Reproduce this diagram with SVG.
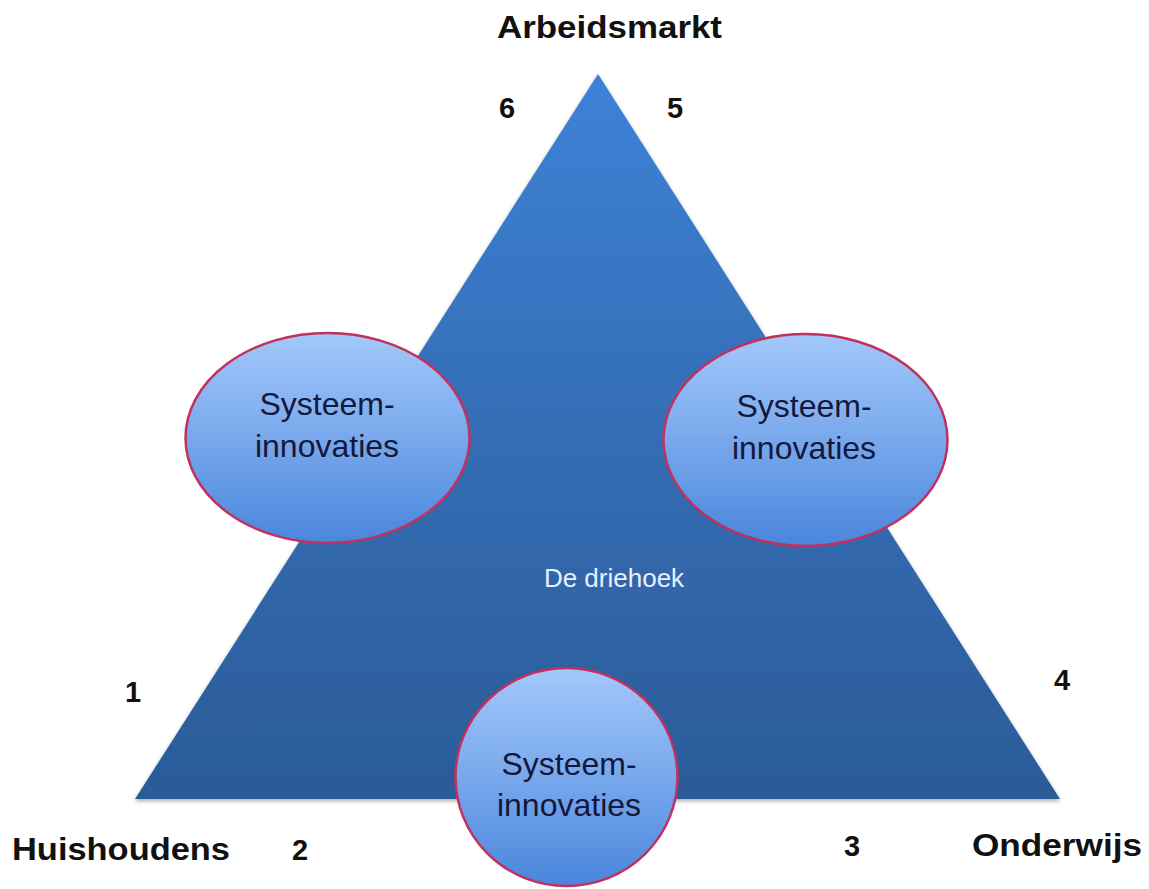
<svg xmlns="http://www.w3.org/2000/svg" width="1149" height="889" viewBox="0 0 1149 889">
<defs>
<linearGradient id="tri" x1="0" y1="0" x2="0" y2="1">
<stop offset="0" stop-color="#3d82d6"/>
<stop offset="0.5" stop-color="#346db5"/>
<stop offset="1" stop-color="#2b5b98"/>
</linearGradient>
<linearGradient id="ell" x1="0" y1="0" x2="0" y2="1">
<stop offset="0" stop-color="#a3c8fa"/>
<stop offset="0.5" stop-color="#78a8ec"/>
<stop offset="1" stop-color="#4a86dc"/>
</linearGradient>
<filter id="sh" x="-10%" y="-10%" width="120%" height="130%">
<feGaussianBlur in="SourceAlpha" stdDeviation="2"/>
<feOffset dy="2"/>
<feComponentTransfer><feFuncA type="linear" slope="0.35"/></feComponentTransfer>
<feMerge><feMergeNode/><feMergeNode in="SourceGraphic"/></feMerge>
</filter>
</defs>
<style>
.lbl{font-family:"Liberation Sans",Arial,sans-serif;font-weight:bold;fill:#111;}
.ell{fill:url(#ell);stroke:#c2305e;stroke-width:2.5;}
.et{font-family:"Liberation Sans",Arial,sans-serif;font-size:32px;fill:#14183a;text-anchor:middle;}
</style>
<rect width="1149" height="889" fill="#ffffff"/>
<g id="triangle">
<polygon points="598,74 1060,799 135,799" fill="url(#tri)" filter="url(#sh)"/>
<text x="614" y="587" font-family="Liberation Sans, Arial, sans-serif" font-size="26" fill="#e8f0ff" text-anchor="middle">De driehoek</text>
</g>
<g id="labels">
<text class="lbl" x="497" y="38" font-size="31" textLength="225" lengthAdjust="spacingAndGlyphs">Arbeidsmarkt</text>
<text class="lbl" x="12" y="860" font-size="31" textLength="218" lengthAdjust="spacingAndGlyphs">Huishoudens</text>
<text class="lbl" x="972" y="856" font-size="31" textLength="170" lengthAdjust="spacingAndGlyphs">Onderwijs</text>
<text class="lbl" x="499" y="118" font-size="29">6</text>
<text class="lbl" x="667" y="118" font-size="29">5</text>
<text class="lbl" x="125" y="702" font-size="29">1</text>
<text class="lbl" x="1054" y="690" font-size="29">4</text>
<text class="lbl" x="292" y="860" font-size="29">2</text>
<text class="lbl" x="844" y="856" font-size="29">3</text>
</g>
<g id="node-left">
<ellipse class="ell" cx="327.5" cy="438" rx="142" ry="105"/>
<text class="et" x="327" y="415">Systeem-</text>
<text class="et" x="327" y="457">innovaties</text>
</g>
<g id="node-right">
<ellipse class="ell" cx="805.5" cy="440" rx="142" ry="106"/>
<text class="et" x="804" y="417">Systeem-</text>
<text class="et" x="804" y="459">innovaties</text>
</g>
<g id="node-bottom">
<ellipse class="ell" cx="566.5" cy="777" rx="111" ry="109"/>
<text class="et" x="569" y="775">Systeem-</text>
<text class="et" x="569" y="816">innovaties</text>
</g>
<g id="connectors"/>
</svg>
